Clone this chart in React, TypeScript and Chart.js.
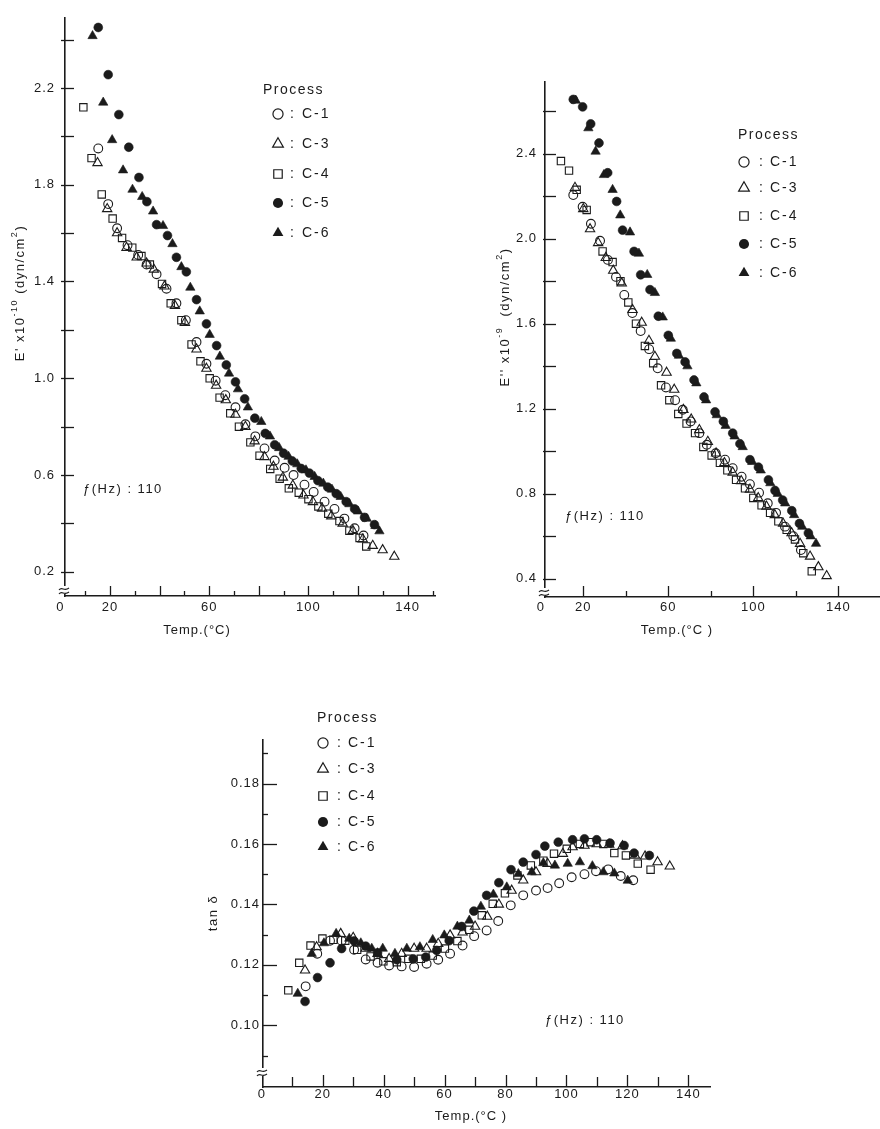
import React, { useEffect, useRef } from 'react';
import { Chart, registerables } from 'chart.js';

Chart.register(...registerables);

const FONT = '"Liberation Sans", "DejaVu Sans", Arial, sans-serif';
const INK = '#1b1b1b';

// ---------- series identity ----------
const processLabels = ['C-1', 'C-3', 'C-4', 'C-5', 'C-6'];
const markerShapes = ['circle', 'triangle', 'rect', 'circle', 'triangle'];
const markerFilled = [false, false, false, true, true];
const markerRadius = [4.4, 5.4, 5.2, 4.4, 5.4];

// ---------- Panel 1: E' x10^-10 (dyn/cm2) ----------
const storTempC1 = [15.3, 19.3, 22.9, 27.1, 31.4, 34.8, 38.8, 42.8, 46.8, 50.6, 54.9, 58.9, 62.6, 66.5, 70.6, 74.6, 78.6, 82.3, 86.4, 90.4, 94.0, 98.4, 102.1, 106.5, 110.5, 114.5, 118.6, 122.2];
const storModC1 = [1.95, 1.72, 1.62, 1.55, 1.51, 1.47, 1.43, 1.37, 1.31, 1.24, 1.15, 1.06, 0.99, 0.93, 0.88, 0.81, 0.76, 0.71, 0.66, 0.63, 0.6, 0.56, 0.53, 0.49, 0.46, 0.42, 0.38, 0.35];
const storTempC3 = [15.0, 18.9, 22.9, 26.7, 30.8, 34.8, 37.7, 42.0, 46.2, 50.2, 54.9, 58.9, 62.8, 66.7, 70.6, 74.6, 78.3, 82.3, 85.9, 89.7, 93.7, 98.0, 101.8, 105.5, 109.2, 113.8, 117.9, 121.9, 125.9, 129.9, 134.6];
const storModC3 = [1.89, 1.7, 1.6, 1.54, 1.5, 1.475, 1.45, 1.38, 1.3, 1.23, 1.12, 1.04, 0.97, 0.91, 0.85, 0.8, 0.74, 0.675, 0.635, 0.59, 0.557, 0.516, 0.489, 0.462, 0.43, 0.4, 0.37, 0.335, 0.308, 0.29, 0.263];
const storTempC4 = [9.3, 12.6, 16.7, 21.1, 24.9, 29.0, 32.7, 36.1, 41.0, 44.5, 48.8, 52.9, 56.5, 60.2, 64.2, 68.5, 72.0, 76.6, 80.3, 84.6, 88.4, 92.1, 96.1, 100.0, 104.0, 108.0, 112.5, 116.5, 120.6, 123.3];
const storModC4 = [2.12, 1.91, 1.76, 1.66, 1.58, 1.54, 1.505, 1.47, 1.39, 1.31, 1.24, 1.14, 1.07, 1.0, 0.92, 0.855, 0.8, 0.735, 0.68, 0.625, 0.585, 0.545, 0.527, 0.5, 0.47, 0.44, 0.41, 0.37, 0.34, 0.305];
const storTempC5 = [15.3, 19.3, 23.6, 27.6, 31.7, 34.9, 38.8, 43.2, 46.8, 50.8, 54.9, 58.9, 63.0, 66.9, 70.6, 74.3, 78.4, 82.6, 86.4, 90.0, 93.5, 97.1, 100.4, 103.8, 107.8, 111.2, 115.2, 118.6, 122.6, 126.6];
const storModC5 = [2.45, 2.255, 2.09, 1.955, 1.83, 1.73, 1.635, 1.59, 1.5, 1.44, 1.325, 1.225, 1.135, 1.055, 0.985, 0.915, 0.835, 0.772, 0.725, 0.69, 0.658, 0.627, 0.608, 0.577, 0.55, 0.523, 0.49, 0.46, 0.425, 0.395];
const storTempC6 = [13.0, 17.3, 20.9, 25.3, 29.1, 33.0, 37.4, 41.4, 45.2, 48.8, 52.4, 56.2, 60.2, 64.3, 68.0, 71.6, 75.6, 81.0, 84.5, 88.2, 92.0, 95.5, 99.0, 102.5, 106.0, 109.5, 113.0, 116.5, 120.0, 123.5, 127.0, 128.6];
const storModC6 = [2.415, 2.14, 1.985, 1.86, 1.78, 1.75, 1.69, 1.63, 1.555, 1.46, 1.375, 1.277, 1.18, 1.09, 1.02, 0.955, 0.88, 0.82, 0.76, 0.712, 0.676, 0.645, 0.62, 0.593, 0.565, 0.54, 0.51, 0.48, 0.45, 0.42, 0.39, 0.368];

const storXTicks = [0, 10, 20, 30, 40, 50, 60, 70, 80, 90, 100, 110, 120, 130, 140, 150];
const storXLabels = [0, 20, 60, 100, 140];
const storXMajor = [20, 40, 60, 80, 100, 120, 140];
const storYTicks = [0.2, 0.4, 0.6, 0.8, 1.0, 1.2, 1.4, 1.6, 1.8, 2.0, 2.2, 2.4];
const storYLabels = [0.2, 0.6, 1.0, 1.4, 1.8, 2.2];

// ---------- Panel 2: E'' x10^-9 (dyn/cm2) ----------
const lossTempC1 = [15.3, 19.7, 23.6, 27.9, 31.6, 35.4, 39.3, 43.1, 47.0, 51.0, 55.0, 58.9, 63.2, 66.8, 70.5, 74.6, 78.1, 82.3, 86.7, 90.3, 94.5, 98.4, 102.7, 106.8, 110.7, 114.9, 118.8, 122.4];
const lossModC1 = [2.205, 2.15, 2.07, 1.99, 1.9, 1.82, 1.735, 1.65, 1.565, 1.48, 1.39, 1.3, 1.24, 1.195, 1.14, 1.085, 1.03, 0.99, 0.96, 0.92, 0.88, 0.845, 0.805, 0.755, 0.71, 0.645, 0.6, 0.535];
const lossTempC3 = [16.1, 20.0, 23.2, 27.0, 30.6, 34.1, 38.1, 43.2, 47.5, 50.9, 53.7, 59.2, 62.8, 67.1, 70.8, 74.6, 78.6, 82.5, 86.4, 90.3, 94.3, 98.4, 102.3, 106.2, 110.1, 114.0, 118.0, 122.0, 126.7, 130.6, 134.5];
const lossModC3 = [2.24, 2.14, 2.045, 1.98, 1.91, 1.85, 1.79, 1.665, 1.605, 1.52, 1.445, 1.37, 1.29, 1.195, 1.15, 1.1, 1.045, 0.99, 0.945, 0.9, 0.86, 0.82, 0.78, 0.74, 0.7, 0.66, 0.615, 0.565, 0.505, 0.455, 0.413];
const lossTempC4 = [9.5, 13.3, 16.9, 21.6, 29.1, 33.8, 37.5, 41.2, 44.8, 49.0, 52.9, 56.6, 60.5, 64.7, 68.6, 72.6, 76.5, 80.4, 84.3, 87.8, 91.9, 96.1, 100.0, 103.9, 107.9, 111.8, 115.7, 119.6, 123.5, 127.5];
const lossModC4 = [2.365, 2.32, 2.23, 2.135, 1.94, 1.89, 1.8, 1.7, 1.6, 1.495, 1.414, 1.31, 1.24, 1.175, 1.13, 1.085, 1.02, 0.98, 0.945, 0.91, 0.865, 0.825, 0.78, 0.745, 0.71, 0.67, 0.63, 0.585, 0.52, 0.435];
const lossTempC5 = [15.3, 19.7, 23.5, 27.4, 31.5, 35.7, 38.5, 43.9, 47.0, 51.4, 55.3, 60.0, 64.0, 67.9, 72.1, 76.8, 82.0, 85.9, 90.3, 93.7, 98.4, 102.4, 107.1, 110.2, 113.8, 118.1, 121.7, 125.9];
const lossModC5 = [2.655, 2.62, 2.54, 2.45, 2.31, 2.175, 2.04, 1.94, 1.83, 1.76, 1.635, 1.545, 1.46, 1.42, 1.335, 1.255, 1.185, 1.14, 1.085, 1.035, 0.96, 0.925, 0.865, 0.815, 0.77, 0.72, 0.66, 0.615];
const lossTempC6 = [16.5, 22.4, 25.8, 29.7, 33.8, 37.4, 42.0, 46.2, 50.1, 53.7, 57.4, 61.2, 65.0, 69.0, 73.2, 77.8, 82.8, 87.0, 91.2, 95.0, 99.5, 103.5, 108.0, 111.5, 115.0, 119.2, 123.0, 127.0, 129.5];
const lossModC6 = [2.65, 2.52, 2.41, 2.3, 2.23, 2.11, 2.03, 1.93, 1.83, 1.745, 1.63, 1.53, 1.45, 1.4, 1.32, 1.24, 1.17, 1.12, 1.07, 1.02, 0.95, 0.91, 0.85, 0.8, 0.755, 0.7, 0.645, 0.6, 0.565];

const lossXTicks = [0, 20, 40, 60, 80, 100, 120, 140];
const lossXLabels = [0, 20, 60, 100, 140];
const lossXMajor = [20, 60, 100, 140];
const lossYTicks = [0.4, 0.6, 0.8, 1.0, 1.2, 1.4, 1.6, 1.8, 2.0, 2.2, 2.4, 2.6];
const lossYLabels = [0.4, 0.8, 1.2, 1.6, 2.0, 2.4];

// ---------- Panel 3: tan delta ----------
const tanTempC1 = [14.4, 18.2, 22.4, 26.2, 30.3, 34.1, 38.0, 41.8, 45.9, 50.0, 54.1, 57.9, 61.8, 65.9, 69.7, 73.8, 77.6, 81.7, 85.8, 90.0, 93.8, 97.6, 101.7, 105.9, 109.7, 113.7, 117.8, 121.9];
const tanDeltaC1 = [0.1129, 0.1237, 0.128, 0.128, 0.125, 0.1218, 0.1207, 0.1198, 0.1195, 0.1193, 0.1204, 0.1217, 0.1237, 0.1264, 0.1295, 0.1314, 0.1345, 0.1397, 0.143, 0.1446, 0.1454, 0.147, 0.149, 0.15, 0.151, 0.1516, 0.1494, 0.148];
const tanTempC3 = [14.2, 18.0, 25.9, 30.0, 34.1, 38.0, 41.8, 45.9, 50.0, 54.1, 57.9, 61.8, 65.9, 70.0, 74.0, 77.8, 82.0, 85.8, 90.0, 93.8, 98.8, 102.0, 105.9, 109.9, 114.0, 118.4, 122.5, 125.8, 129.9, 133.9];
const tanDeltaC3 = [0.1182, 0.1259, 0.1303, 0.129, 0.1254, 0.1237, 0.122, 0.1237, 0.1254, 0.1254, 0.127, 0.1298, 0.1308, 0.1327, 0.136, 0.14, 0.1446, 0.148, 0.1507, 0.1535, 0.1568, 0.159, 0.1595, 0.16, 0.1598, 0.1593, 0.1562, 0.1559, 0.154, 0.1526];
const tanTempC4 = [8.7, 12.3, 16.0, 19.9, 23.5, 27.4, 31.3, 35.7, 39.9, 44.3, 48.1, 52.2, 56.1, 60.1, 64.2, 68.1, 72.2, 75.8, 79.8, 83.9, 88.3, 92.4, 95.9, 100.1, 104.4, 107.9, 112.1, 115.7, 119.5, 123.4, 127.6];
const tanDeltaC4 = [0.1116, 0.1207, 0.1264, 0.1287, 0.1283, 0.128, 0.125, 0.1228, 0.1212, 0.1209, 0.122, 0.122, 0.1231, 0.1254, 0.1279, 0.1316, 0.1364, 0.1402, 0.1437, 0.1496, 0.1529, 0.1545, 0.1568, 0.1584, 0.16, 0.1606, 0.16, 0.157, 0.1562, 0.1535, 0.1515];
const tanTempC5 = [14.2, 18.3, 22.4, 26.2, 30.3, 34.1, 38.0, 44.3, 49.7, 53.8, 57.4, 61.5, 65.6, 69.6, 73.8, 77.8, 81.8, 85.8, 90.0, 92.9, 97.3, 102.0, 105.9, 109.9, 114.3, 118.9, 122.2, 127.2];
const tanDeltaC5 = [0.1079, 0.1158, 0.1207, 0.1254, 0.1279, 0.1262, 0.124, 0.1217, 0.122, 0.1226, 0.1248, 0.128, 0.1327, 0.1378, 0.143, 0.1472, 0.1515, 0.154, 0.1565, 0.1593, 0.1606, 0.1614, 0.1617, 0.1614, 0.1603, 0.1595, 0.157, 0.1562];
const tanTempC6 = [11.8, 16.4, 20.4, 24.4, 28.7, 32.5, 36.1, 39.7, 43.7, 47.6, 51.9, 56.1, 59.9, 64.2, 68.1, 71.9, 76.0, 80.4, 84.2, 88.6, 92.4, 96.2, 100.4, 104.4, 108.5, 112.1, 115.7, 120.1];
const tanDeltaC6 = [0.1105, 0.1237, 0.1272, 0.1303, 0.1287, 0.1272, 0.1254, 0.1254, 0.1237, 0.1254, 0.1259, 0.1283, 0.1298, 0.1327, 0.1347, 0.1393, 0.1433, 0.1457, 0.1501, 0.1507, 0.1537, 0.1529, 0.1535, 0.154, 0.1527, 0.1507, 0.1503, 0.1479];

const tanXTicks = [0, 10, 20, 30, 40, 50, 60, 70, 80, 90, 100, 110, 120, 130, 140];
const tanXLabels = [0, 20, 40, 60, 80, 100, 120, 140];
const tanXMajor = [0, 20, 40, 60, 80, 100, 120, 140];
const tanYTicks = [0.09, 0.1, 0.11, 0.12, 0.13, 0.14, 0.15, 0.16, 0.17, 0.18, 0.19];
const tanYLabels = [0.1, 0.12, 0.14, 0.16, 0.18];

// ---------- layout types ----------
type Seg = { t: string; sup?: boolean };
type Panel = {
  box: { left: number; top: number; width: number; height: number };
  area: { left: number; top: number; right: number; bottom: number };
  xRange: [number, number];
  yRange: [number, number];
  xTicks: number[]; xLabels: number[]; xMajor: number[];
  yTicks: number[]; yLabels: number[]; yDigits: number;
  xPad: number; yPad: number;
  temps: number[][]; values: number[][];
  yTitle: Seg[]; yTitleAt: [number, number];
  xTitle: string; xTitleAt: [number, number];
  freqAt: [number, number];
  legend: { head: [number, number]; markerX: number; colonX: number; textX: number; rows: number[] };
  yTickOut: number; yTickMajor: number; yTickMinor: number;
  xTickMajor: number; xTickMinor: number;
  breakY: number;
};

const panels: Panel[] = [
  {
    box: { left: 0, top: 0, width: 440, height: 645 },
    area: { left: 65, top: 5, right: 435, bottom: 596 },
    xRange: [1.9, 151], yRange: [0.1, 2.49],
    xTicks: storXTicks, xLabels: storXLabels, xMajor: storXMajor,
    yTicks: storYTicks, yLabels: storYLabels, yDigits: 1,
    xPad: 4, yPad: 10,
    temps: [storTempC1, storTempC3, storTempC4, storTempC5, storTempC6],
    values: [storModC1, storModC3, storModC4, storModC5, storModC6],
    yTitle: [{ t: "E' x10" }, { t: '-10', sup: true }, { t: ' (dyn/cm' }, { t: '2', sup: true }, { t: ')' }],
    yTitleAt: [20, 293],
    xTitle: 'Temp.(°C)', xTitleAt: [197, 630],
    freqAt: [83, 489],
    legend: { head: [263, 90], markerX: 278, colonX: 290, textX: 302, rows: [114, 144, 174, 203, 233] },
    yTickOut: 4, yTickMajor: 9, yTickMinor: 9,
    xTickMajor: 10, xTickMinor: 5,
    breakY: 589,
  },
  {
    box: { left: 440, top: 0, width: 440, height: 645 },
    area: { left: 545, top: 82, right: 880, bottom: 597 },
    xRange: [2, 159.6], yRange: [0.314, 2.737],
    xTicks: lossXTicks, xLabels: lossXLabels, xMajor: lossXMajor,
    yTicks: lossYTicks, yLabels: lossYLabels, yDigits: 1,
    xPad: 3, yPad: 8,
    temps: [lossTempC1, lossTempC3, lossTempC4, lossTempC5, lossTempC6],
    values: [lossModC1, lossModC3, lossModC4, lossModC5, lossModC6],
    yTitle: [{ t: "E'' x10" }, { t: '-9', sup: true }, { t: '  (dyn/cm' }, { t: '2', sup: true }, { t: ')' }],
    yTitleAt: [505, 317],
    xTitle: 'Temp.(°C )', xTitleAt: [677, 630],
    freqAt: [565, 516],
    legend: { head: [738, 135], markerX: 744, colonX: 759, textX: 770, rows: [162, 188, 216, 244, 273] },
    yTickOut: 2, yTickMajor: 11, yTickMinor: 11,
    xTickMajor: 11, xTickMinor: 6,
    breakY: 591,
  },
  {
    box: { left: 190, top: 690, width: 540, height: 439 },
    area: { left: 263, top: 740, right: 710, bottom: 1087 },
    xRange: [0.4, 147.1], yRange: [0.0796, 0.1944],
    xTicks: tanXTicks, xLabels: tanXLabels, xMajor: tanXMajor,
    yTicks: tanYTicks, yLabels: tanYLabels, yDigits: 2,
    xPad: 0, yPad: 3,
    temps: [tanTempC1, tanTempC3, tanTempC4, tanTempC5, tanTempC6],
    values: [tanDeltaC1, tanDeltaC3, tanDeltaC4, tanDeltaC5, tanDeltaC6],
    yTitle: [{ t: 'tan δ' }],
    yTitleAt: [213, 913],
    xTitle: 'Temp.(°C )', xTitleAt: [471, 1116],
    freqAt: [545, 1020],
    legend: { head: [317, 718], markerX: 323, colonX: 337, textX: 348, rows: [743, 769, 796, 822, 847] },
    yTickOut: 0, yTickMajor: 14, yTickMinor: 5,
    xTickMajor: 12, xTickMinor: 10,
    breakY: 1071,
  },
];

const has = (list: number[], v: number) => list.some((l) => Math.abs(l - v) < 1e-6);

function drawMarker(ctx: CanvasRenderingContext2D, shape: string, filled: boolean, x: number, y: number, r: number) {
  ctx.beginPath();
  if (shape === 'circle') {
    ctx.arc(x, y, r, 0, Math.PI * 2);
  } else if (shape === 'triangle') {
    ctx.moveTo(x, y - r);
    ctx.lineTo(x + r * 0.866, y + r * 0.5);
    ctx.lineTo(x - r * 0.866, y + r * 0.5);
    ctx.closePath();
  } else {
    const s = r * Math.SQRT1_2;
    ctx.rect(x - s, y - s, 2 * s, 2 * s);
  }
  if (filled) {
    ctx.fillStyle = INK;
    ctx.fill();
  } else {
    ctx.lineWidth = 1.2;
    ctx.strokeStyle = INK;
    ctx.stroke();
  }
}

function decorPlugin(p: Panel) {
  return {
    id: 'panelDecor',
    beforeDraw(chart: any) {
      (chart.ctx as any).letterSpacing = '1px';
    },
    afterDraw(chart: any) {
      const ctx: CanvasRenderingContext2D = chart.ctx;
      const xs = chart.scales.x;
      const ys = chart.scales.y;
      const a = chart.chartArea;
      const ox = p.box.left;
      const oy = p.box.top;
      ctx.save();
      ctx.strokeStyle = INK;
      ctx.fillStyle = INK;
      ctx.lineWidth = 1.3;
      // inward ticks on y axis
      for (const v of p.yTicks) {
        if (v < ys.min || v > ys.max) continue;
        const py = Math.round(ys.getPixelForValue(v)) + 0.5;
        const len = has(p.yLabels, v) ? p.yTickMajor : p.yTickMinor;
        ctx.beginPath();
        ctx.moveTo(a.left - p.yTickOut, py);
        ctx.lineTo(a.left + len, py);
        ctx.stroke();
      }
      // inward ticks on x axis
      for (const v of p.xTicks) {
        if (v < xs.min || v > xs.max) continue;
        const px = Math.round(xs.getPixelForValue(v)) + 0.5;
        const len = has(p.xMajor, v) ? p.xTickMajor : p.xTickMinor;
        ctx.beginPath();
        ctx.moveTo(px, a.bottom);
        ctx.lineTo(px, a.bottom - len);
        ctx.stroke();
      }
      // axis break mark
      const bx = a.left;
      const by = p.breakY - oy;
      ctx.fillStyle = '#ffffff';
      ctx.fillRect(bx - 2, by - 3, 4, 8);
      ctx.fillStyle = INK;
      ctx.lineWidth = 1.2;
      for (const d of [0, 4]) {
        ctx.beginPath();
        ctx.moveTo(bx - 6, by + d + 1);
        ctx.bezierCurveTo(bx - 3, by + d - 3, bx - 1, by + d + 3, bx + 4, by + d - 1);
        ctx.stroke();
      }
      // y title (rotated)
      ctx.save();
      ctx.translate(p.yTitleAt[0] - ox, p.yTitleAt[1] - oy);
      ctx.rotate(-Math.PI / 2);
      ctx.textBaseline = 'middle';
      ctx.textAlign = 'left';
      (ctx as any).letterSpacing = '1.5px';
      const size = 13;
      const widths = p.yTitle.map((s) => {
        ctx.font = `${s.sup ? 9 : size}px ${FONT}`;
        return ctx.measureText(s.t).width;
      });
      let cx = -widths.reduce((u, w) => u + w, 0) / 2;
      p.yTitle.forEach((s, i) => {
        ctx.font = `${s.sup ? 9 : size}px ${FONT}`;
        ctx.fillText(s.t, cx, s.sup ? -5 : 0);
        cx += widths[i];
      });
      ctx.restore();
      // x title
      ctx.textBaseline = 'middle';
      ctx.textAlign = 'center';
      (ctx as any).letterSpacing = '1px';
      ctx.font = `13px ${FONT}`;
      ctx.fillText(p.xTitle, p.xTitleAt[0] - ox, p.xTitleAt[1] - oy);
      // frequency note
      ctx.textAlign = 'left';
      (ctx as any).letterSpacing = '1.5px';
      ctx.fillText('ƒ(Hz) : 110', p.freqAt[0] - ox, p.freqAt[1] - oy);
      // legend
      ctx.font = `14px ${FONT}`;
      ctx.fillText('Process', p.legend.head[0] - ox, p.legend.head[1] - oy);
      processLabels.forEach((lab, i) => {
        const ry = p.legend.rows[i] - oy;
        drawMarker(ctx, markerShapes[i], markerFilled[i], p.legend.markerX - ox, ry, markerRadius[i] * 1.15);
        ctx.fillStyle = INK;
        ctx.font = `14px ${FONT}`;
        (ctx as any).letterSpacing = '0px';
        ctx.fillText(':', p.legend.colonX - ox, ry);
        (ctx as any).letterSpacing = '2px';
        ctx.fillText(lab, p.legend.textX - ox, ry);
      });
      ctx.restore();
      (ctx as any).letterSpacing = '0px';
    },
  };
}

function buildConfig(p: Panel): any {
  const { box, area } = p;
  return {
    type: 'scatter',
    data: {
      datasets: processLabels.map((lab, i) => ({
        label: lab,
        data: p.temps[i].map((t, k) => ({ x: t, y: p.values[i][k] })),
        pointStyle: markerShapes[i],
        pointRadius: markerRadius[i],
        pointBackgroundColor: markerFilled[i] ? INK : 'rgba(0,0,0,0)',
        pointBorderColor: INK,
        pointBorderWidth: markerFilled[i] ? 0.6 : 1.1,
        showLine: false,
        clip: false,
      })),
    },
    options: {
      responsive: false,
      animation: false,
      events: [],
      devicePixelRatio: 1,
      layout: {
        autoPadding: false,
        padding: { left: 0, top: area.top - box.top, right: box.left + box.width - area.right, bottom: 0 },
      },
      plugins: { legend: { display: false }, tooltip: { enabled: false }, title: { display: false } },
      scales: {
        x: {
          type: 'linear',
          position: 'bottom',
          bounds: 'data',
          min: p.xRange[0],
          max: p.xRange[1],
          afterBuildTicks: (s: any) => {
            s.ticks = p.xTicks.map((v) => ({ value: v }));
          },
          afterFit: (s: any) => {
            s.height = box.top + box.height - area.bottom;
          },
          grid: { display: false, drawTicks: false },
          border: { display: true, color: INK, width: 1.6 },
          ticks: {
            autoSkip: false,
            maxRotation: 0,
            minRotation: 0,
            padding: p.xPad,
            color: INK,
            font: { family: FONT, size: 13 },
            callback: (v: number) => (has(p.xLabels, v) ? String(v) : ''),
          },
        },
        y: {
          type: 'linear',
          position: 'left',
          bounds: 'data',
          min: p.yRange[0],
          max: p.yRange[1],
          afterBuildTicks: (s: any) => {
            s.ticks = p.yTicks.map((v) => ({ value: v }));
          },
          afterFit: (s: any) => {
            s.width = area.left - box.left;
          },
          grid: { display: false, drawTicks: false },
          border: { display: true, color: INK, width: 1.6 },
          ticks: {
            autoSkip: false,
            padding: p.yPad,
            color: INK,
            font: { family: FONT, size: 13 },
            callback: (v: number) => (has(p.yLabels, v) ? Number(v).toFixed(p.yDigits) : ''),
          },
        },
      },
    },
    plugins: [decorPlugin(p)],
  };
}

function PanelChart({ panel }: { panel: Panel }) {
  const ref = useRef<HTMLCanvasElement>(null);
  useEffect(() => {
    const canvas = ref.current;
    if (!canvas) return;
    const chart = new Chart(canvas, buildConfig(panel));
    return () => chart.destroy();
  }, [panel]);
  const { left, top, width, height } = panel.box;
  return (
    <canvas
      ref={ref}
      width={width}
      height={height}
      style={{ position: 'absolute', left, top, width, height, display: 'block' }}
    />
  );
}

export default function App() {
  return (
    <div style={{ position: 'absolute', left: 0, top: 0, width: 880, height: 1129, background: '#fff', overflow: 'hidden' }}>
      {panels.map((p, i) => (
        <PanelChart key={i} panel={p} />
      ))}
    </div>
  );
}
